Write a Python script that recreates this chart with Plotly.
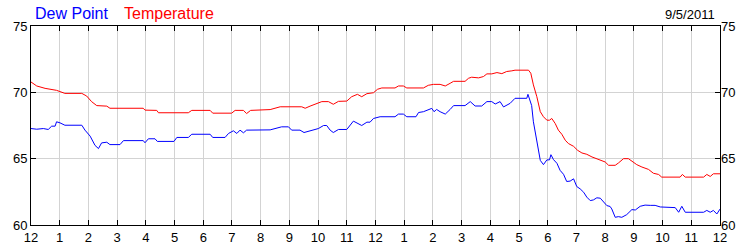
import plotly.graph_objects as go

# Hours since midnight (0 = 12 AM, 24 = next midnight)
dew_hours = [0.0, 0.20, 0.43, 0.60, 0.72, 0.84, 0.89, 1.01, 1.18, 1.77, 1.88, 2.06, 2.23, 2.35, 2.46,
             2.64, 2.75, 3.10, 3.22, 3.91, 3.97, 4.09, 4.32, 4.40, 4.98, 5.08, 5.48, 5.60, 6.24, 6.33,
             6.76, 6.88, 7.05, 7.17, 7.28, 7.40, 7.51, 7.69, 8.33, 8.73, 8.97, 9.08, 9.37, 9.51, 9.78,
             10.01, 10.19, 10.30, 10.42, 10.53, 10.71, 11.0, 11.23, 11.37, 11.52, 11.70, 11.81, 11.93,
             12.16, 12.68, 12.80, 12.97, 13.09, 13.41, 13.50, 13.67, 13.79, 13.96, 14.04, 14.13, 14.25,
             14.43, 14.60, 14.72, 15.12, 15.30, 15.47, 15.70, 15.88, 16.05, 16.17, 16.34, 16.46, 16.57,
             16.69, 16.86, 17.27, 17.31, 17.44, 17.50, 17.62, 17.74, 17.85, 17.97, 18.06, 18.11, 18.20,
             18.32, 18.43, 18.55, 18.66, 18.78, 18.90, 19.01, 19.13, 19.25, 19.36, 19.48, 19.59, 19.71,
             19.83, 19.94, 20.06, 20.17, 20.23, 20.35, 20.46, 20.58, 20.75, 20.93, 21.05, 21.22, 21.39,
             21.57, 21.74, 21.92, 22.44, 22.56, 22.67, 22.79, 23.43, 23.54, 23.66, 23.77, 23.89, 24.0]
dew_point = [67.27, 67.22, 67.27, 67.20, 67.45, 67.45, 67.78, 67.70, 67.52, 67.52, 67.15, 66.70, 66.00, 65.76, 66.19,
             66.24, 66.06, 66.06, 66.36, 66.36, 66.20, 66.50, 66.50, 66.30, 66.30, 66.60, 66.60, 66.84, 66.84, 66.60,
             66.60, 66.90, 67.10, 66.90, 67.15, 66.95, 67.15, 67.15, 67.17, 67.40, 67.40, 67.15, 67.15, 66.97, 67.15,
             67.27, 67.50, 67.50, 67.15, 66.97, 67.20, 67.20, 67.83, 67.65, 67.50, 67.75, 67.75, 68.03,
             68.16, 68.16, 68.36, 68.36, 68.16, 68.16, 68.48, 68.54, 68.66, 68.79, 68.54, 68.71, 68.54,
             68.36, 68.71, 69.00, 69.00, 69.30, 68.97, 68.97, 69.30, 69.30, 69.12, 69.30, 68.90, 69.03,
             69.17, 69.55, 69.55, 69.85, 69.00, 67.78, 66.40, 64.87, 64.55, 64.91, 64.91, 65.30, 64.93,
             64.65, 64.12, 63.82, 63.28, 63.31, 63.48, 62.90, 62.72, 62.47, 62.10, 61.84, 61.89, 62.05,
             62.02, 61.72, 61.46, 61.40, 61.21, 60.58, 60.63, 60.58, 60.78, 61.16, 61.13, 61.41, 61.50,
             61.48, 61.48, 61.36, 61.31, 60.96, 61.41, 60.96, 60.96, 61.10, 60.96, 61.10, 60.83, 61.20]

temp_hours = [0.0, 0.20, 0.49, 0.89, 1.18, 1.77, 1.94, 2.11, 2.29, 2.64, 2.75, 3.91, 3.97, 4.38, 4.44,
              5.48, 5.60, 6.24, 6.33, 6.99, 7.11, 7.40, 7.51, 7.65, 8.33, 8.68, 9.43, 9.55, 9.72, 9.90,
              10.13, 10.36, 10.53, 10.71, 11.0, 11.17, 11.37, 11.52, 11.70, 11.93, 12.07, 12.22, 12.68,
              12.80, 12.97, 13.09, 13.67, 13.84, 14.02, 14.25, 14.43, 14.60, 14.72, 15.12, 15.24, 15.35,
              15.59, 15.76, 15.88, 16.05, 16.23, 16.40, 16.57, 16.75, 16.86, 17.33, 17.41, 17.50, 17.62,
              17.74, 17.85, 17.97, 18.06, 18.14, 18.26, 18.37, 18.49, 18.61, 18.72, 18.90, 19.04, 19.19,
              19.36, 19.54, 19.71, 19.88, 20.0, 20.12, 20.35, 20.46, 20.64, 20.81, 20.99, 21.10, 21.28,
              21.51, 21.68, 21.86, 21.97, 22.61, 22.69, 22.79, 23.43, 23.54, 23.66, 23.77, 24.0]
temperature = [70.78, 70.48, 70.30, 70.15, 69.92, 69.92, 69.72, 69.30, 69.00, 68.96, 68.80, 68.80, 68.66, 68.64, 68.46,
               68.46, 68.64, 68.64, 68.43, 68.43, 68.64, 68.64, 68.40, 68.64, 68.70, 68.91, 68.91, 68.80, 68.96, 69.10,
               69.30, 69.30, 69.10, 69.32, 69.34, 69.67, 69.85, 69.67, 69.90, 69.97, 70.23, 70.33, 70.33,
               70.48, 70.48, 70.33, 70.33, 70.53, 70.60, 70.60, 70.48, 70.68, 70.83, 70.83, 71.06, 71.14,
               71.09, 71.19, 71.39, 71.39, 71.49, 71.41, 71.57, 71.62, 71.67, 71.67, 71.44, 70.56, 69.67,
               68.54, 68.16, 67.90, 67.90, 68.03, 67.65, 67.15, 66.84, 66.39, 66.14, 65.93, 65.63, 65.43,
               65.33, 65.13, 65.00, 64.82, 64.75, 64.50, 64.50, 64.67, 65.00, 65.00, 64.75, 64.55, 64.37,
               64.19, 63.90, 63.81, 63.61, 63.61, 63.81, 63.61, 63.61, 63.81, 63.66, 63.86, 63.86]

tick_hours = list(range(0, 25))
tick_labels = ["12", "1", "2", "3", "4", "5", "6", "7", "8", "9", "10", "11",
               "12", "1", "2", "3", "4", "5", "6", "7", "8", "9", "10", "11", "12"]
date_label = "9/5/2011"

FONT = "Arial, 'Liberation Sans', sans-serif"

fig = go.Figure()
fig.add_trace(go.Scatter(x=dew_hours, y=dew_point, mode="lines", name="Dew Point",
                         line=dict(color="#0000ff", width=1), yaxis="y"))
fig.add_trace(go.Scatter(x=temp_hours, y=temperature, mode="lines", name="Temperature",
                         line=dict(color="#ff0000", width=1), yaxis="y2"))

axis_common = dict(showline=True, linecolor="black", linewidth=1,
                   ticks="inside", ticklen=5, tickcolor="black", tickwidth=1,
                   showgrid=True, gridcolor="#d3d3d3", gridwidth=1, zeroline=False,
                   automargin=False,
                   tickfont=dict(family=FONT, size=13, color="black"))

fig.update_layout(
    width=750, height=250,
    margin=dict(l=31, r=30, t=26, b=25, autoexpand=False),
    paper_bgcolor="white", plot_bgcolor="white",
    showlegend=False,
    xaxis=dict(range=[0, 24], tickvals=tick_hours, ticktext=tick_labels,
               mirror="ticks", **axis_common),
    yaxis=dict(range=[60, 75], tickvals=[60, 65, 70, 75], mirror="ticks", **axis_common),
    yaxis2=dict(range=[60, 75], tickvals=[60, 65, 70, 75], overlaying="y", side="right",
                showline=False, ticks="", showgrid=False, zeroline=False, automargin=False,
                tickfont=dict(family=FONT, size=13, color="black")),
    annotations=[
        dict(text="Dew Point", x=0.003, y=1.065, xref="paper", yref="paper",
             xanchor="left", yanchor="middle", showarrow=False,
             font=dict(family=FONT, size=16, color="#0000ff")),
        dict(text="Temperature", x=0.132, y=1.065, xref="paper", yref="paper",
             xanchor="left", yanchor="middle", showarrow=False,
             font=dict(family=FONT, size=16, color="#ff0000")),
        dict(text=date_label, x=0.996, y=1.06, xref="paper", yref="paper",
             xanchor="right", yanchor="middle", showarrow=False,
             font=dict(family=FONT, size=13, color="black")),
    ],
)

fig.write_html("out.html")
